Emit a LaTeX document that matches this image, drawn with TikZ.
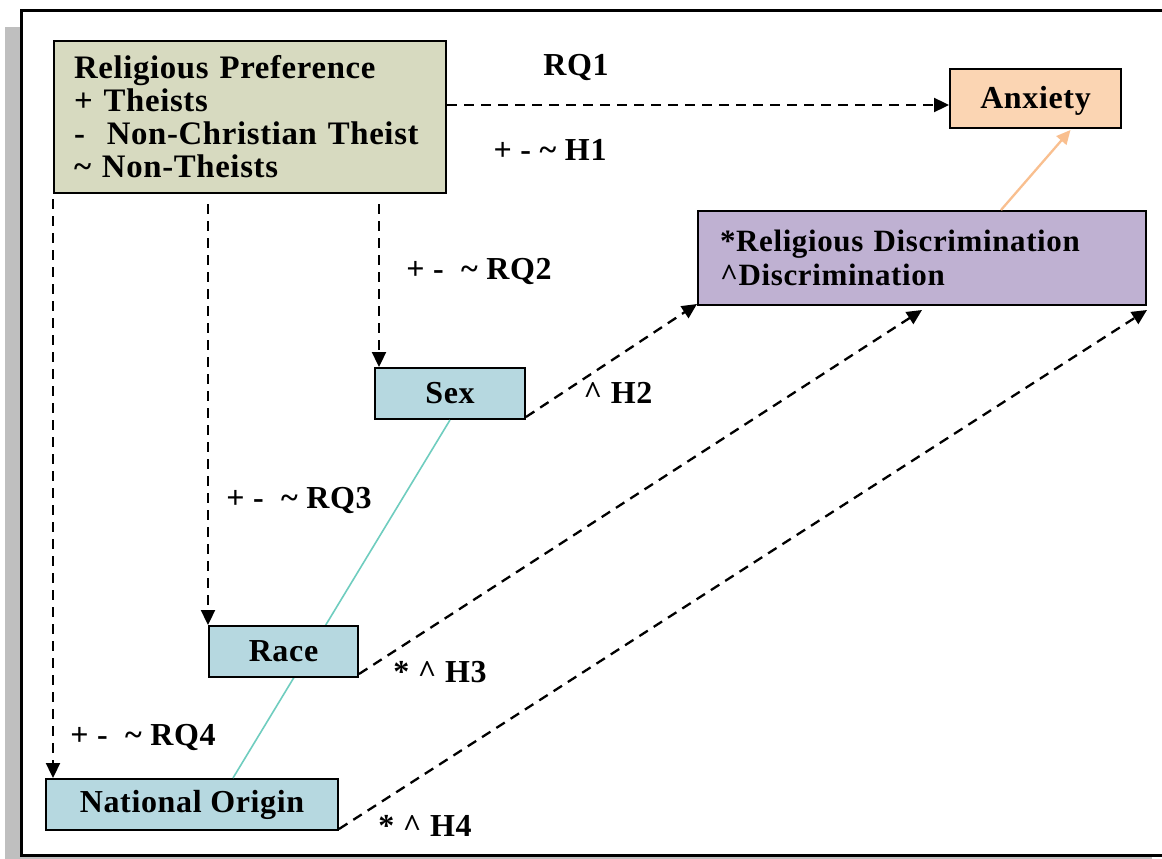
\documentclass[tikz,border=0pt]{standalone}
\usepackage{fontspec}
\setmainfont{Liberation Serif}[LetterSpace=2]
\usetikzlibrary{arrows.meta}
\definecolor{rpfill}{HTML}{D7DAC0}
\definecolor{anxfill}{HTML}{FBD5B3}
\definecolor{rdfill}{HTML}{BFB1D2}
\definecolor{bluefill}{HTML}{B6D8E0}
\definecolor{shadowgray}{HTML}{BFBFBF}
\definecolor{orangeline}{HTML}{F9BF8F}
\definecolor{tealline}{HTML}{6FCDBF}
\begin{document}
\begin{tikzpicture}[x=1pt,y=-1pt,
  every node/.style={font=\fontsize{32}{33}\selectfont\bfseries},
  box/.style={draw=black, line width=2pt, inner sep=0pt, anchor=north west},
  dasharrow/.style={line width=2.3pt, dash pattern=on 10pt off 7pt, -{Triangle[length=15pt,width=14pt]}},
  orangearrow/.style={draw=orangeline, line width=2.3pt, -{Triangle[length=14pt,width=13pt]}},
  tealstroke/.style={draw=tealline, line width=1.6pt},
  lbl/.style={inner sep=0pt}
]
\useasboundingbox (0,0) rectangle (1162,859);
\fill[shadowgray] (5,27) rectangle (1152,861);
\draw[line width=3pt, fill=white] (21,11) rectangle (1166,855);

\node[box, fill=rpfill, minimum width=392pt, minimum height=152pt, text width=352pt, inner xsep=20pt, align=left,
  font=\fontsize{32.8}{33}\selectfont\bfseries] (rp) at (53,40)
  {Religious Preference\\+ Theists\\-\ \ Non-Christian Theist\\\textasciitilde{} Non-Theists};
\node[box, fill=anxfill, minimum width=171pt, minimum height=59pt, text depth=9pt, text height=28pt] (anx) at (949,68) {Anxiety};
\node[box, fill=rdfill, minimum width=448pt, minimum height=94pt, text width=404pt, inner xsep=22pt, align=left,
  font=\fontsize{31}{34}\selectfont\bfseries] (rd) at (697,210)
  {*Religious Discrimination\\\textasciicircum Discrimination};
\node[box, fill=bluefill, minimum width=150pt, minimum height=51pt] (sex) at (374,367) {Sex};
\node[box, fill=bluefill, minimum width=292pt, minimum height=51pt] (no) at (45,778) {National Origin};

\draw[tealstroke] (sex.south) -- ([xshift=41pt]no.north);

\node[box, fill=bluefill, minimum width=149pt, minimum height=51pt] (race) at (208,625) {Race};

\coordinate (y105) at (0,105);
\coordinate (ytop) at (0,204);
\draw[dasharrow] (rp.east |- y105) -- (anx.west |- y105);
\draw[dasharrow] ([yshift=-5pt]rp.south west) -- (no.north -| rp.south west);
\draw[dasharrow] (race.north west |- ytop) -- (race.north west);
\coordinate (sexin) at ([xshift=5pt]sex.north west);
\draw[dasharrow] (sexin |- ytop) -- (sexin);
\draw[dasharrow] ([yshift=3pt]sex.south east) -- ([yshift=2pt]rd.south west);
\draw[dasharrow] ([yshift=4pt]race.south east) -- ([yshift=-4pt]rd.south);
\draw[dasharrow] ([yshift=2pt]no.south east) -- ([yshift=-4pt]rd.south east);
\draw[orangearrow] ([xshift=79pt]rd.north) -- ([xshift=35pt,yshift=-1pt]anx.south);

\node[lbl] (rq1) at (576,68) {RQ1};
\node[lbl] (h1) at (550,150) {+ - \textasciitilde{} H1};
\node[lbl] (rq2) at (479,271) {+ -\ \ \textasciitilde{} RQ2};
\node[lbl] (h2) at (618,393) {\textasciicircum{} H2};
\node[lbl] (rq3) at (299,500) {+ -\ \ \textasciitilde{} RQ3};
\node[lbl] (h3) at (440,672) {* \textasciicircum{} H3};
\node[lbl] (rq4) at (143,737) {+ -\ \ \textasciitilde{} RQ4};
\node[lbl] (h4) at (425,826) {* \textasciicircum{} H4};
\end{tikzpicture}
\end{document}
